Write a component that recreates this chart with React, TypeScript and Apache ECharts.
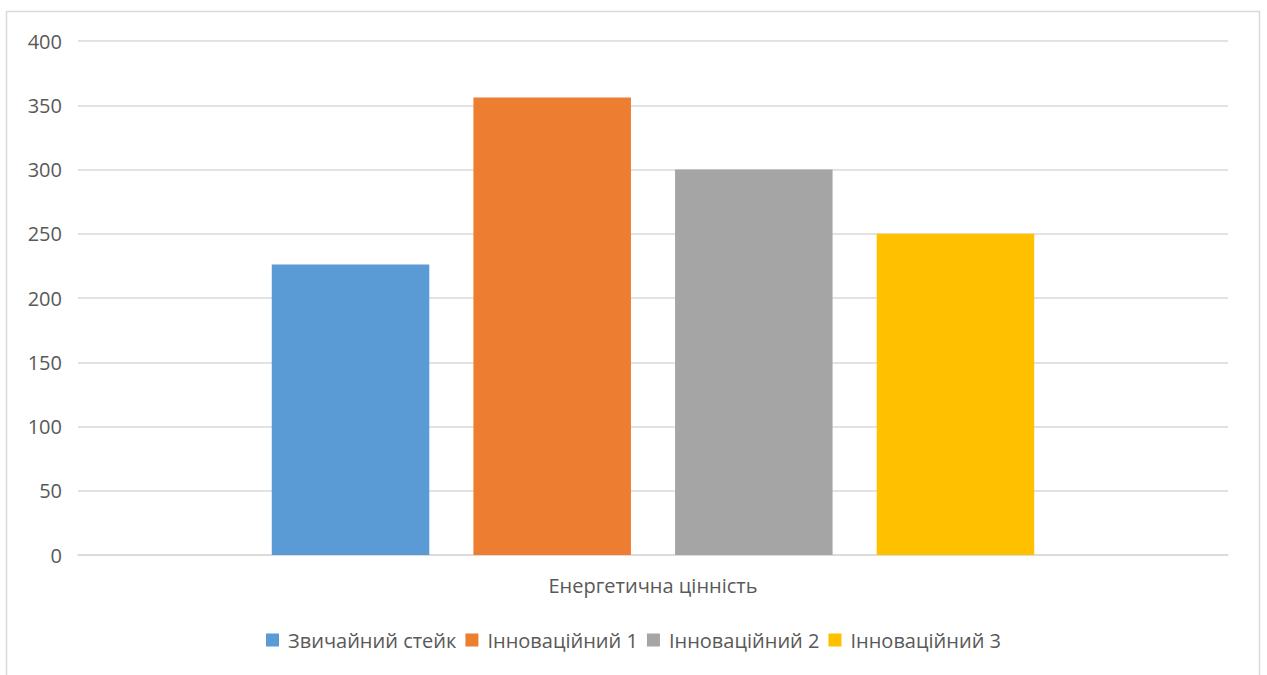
import React, { useEffect, useRef } from "react";
import * as echarts from "echarts";

const categories = ["Енергетична цінність"];
const seriesNames = ["Звичайний стейк", "Інноваційний 1", "Інноваційний 2", "Інноваційний 3"];
const seriesValues = [226, 356, 300, 250];
const seriesColors = ["#5b9bd5", "#ed7d31", "#a5a5a5", "#ffc000"];
const yTicks = { min: 0, max: 400, interval: 50 };

const FONT = "'Open Sans', 'Noto Sans', sans-serif";
const TEXT = "#595959";

export default function App() {
  const ref = useRef<HTMLDivElement>(null);

  useEffect(() => {
    if (!ref.current) return;
    const chart = echarts.init(ref.current, undefined, { renderer: "svg" });
    chart.setOption({
      animation: false,
      backgroundColor: "#ffffff",
      textStyle: { fontFamily: FONT },
      graphic: [
        {
          type: "rect",
          shape: { x: 6.5, y: 11.5, width: 1253, height: 700 },
          style: { fill: "none", stroke: "#d9d9d9", lineWidth: 1.5 },
          silent: true,
        },
      ],
      grid: { left: 78, right: 39, top: 41, bottom: 120, containLabel: false },
      legend: {
        bottom: 20,
        left: "center",
        itemWidth: 13,
        itemHeight: 13,
        itemGap: 9,
        icon: "rect",
        textStyle: { color: TEXT, fontSize: 20, fontFamily: FONT, padding: [0, 0, 0, 4] },
        data: seriesNames,
      },
      xAxis: {
        type: "category",
        data: categories,
        axisLine: { lineStyle: { color: "#d9d9d9", width: 1.5 } },
        axisTick: { show: false },
        axisLabel: { color: TEXT, fontSize: 20, margin: 20, fontFamily: FONT },
      },
      yAxis: {
        type: "value",
        min: yTicks.min,
        max: yTicks.max,
        interval: yTicks.interval,
        axisLine: { show: false },
        axisTick: { show: false },
        splitLine: { lineStyle: { color: "#d9d9d9", width: 1.5 } },
        axisLabel: { color: TEXT, fontSize: 20, margin: 16, fontFamily: FONT },
      },
      series: seriesNames.map((name, i) => ({
        name,
        type: "bar",
        data: [seriesValues[i]],
        itemStyle: { color: seriesColors[i] },
        barGap: "28%",
        barCategoryGap: "33.7%",
      })),
    });
    return () => chart.dispose();
  }, []);

  return (
    <div
      ref={ref}
      style={{ position: "fixed", left: 0, top: 0, width: 1267, height: 675 }}
    />
  );
}
